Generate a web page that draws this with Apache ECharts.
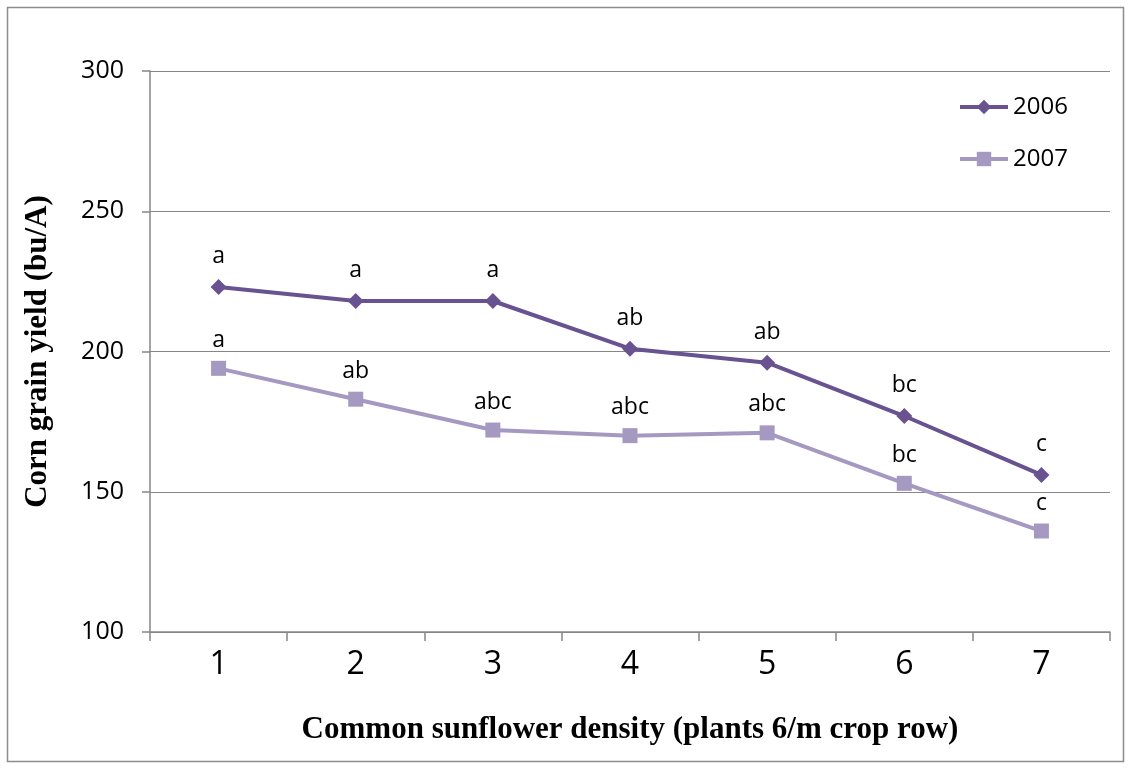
<!DOCTYPE html>
<html><head><meta charset="utf-8">
<script src="https://cdn.jsdelivr.net/npm/echarts@6/dist/echarts.min.js"></script>
<style>html,body{margin:0;padding:0;background:#fff}#c{width:1130px;height:768px}</style>
</head><body><div id="c"></div>
<script>
const categories = ['1','2','3','4','5','6','7'];
const yield2006 = [223, 218, 218, 201, 196, 177, 156];
const yield2007 = [194, 183, 172, 170, 171, 153, 136];
const letters2006 = ['a','a','a','ab','ab','bc','c'];
const letters2007 = ['a','ab','abc','abc','abc','bc','c'];
const yTicks = [100, 150, 200, 250, 300];

const sans = '"Open Sans", "Liberation Sans", sans-serif';
const serif = '"Liberation Serif", "DejaVu Serif", serif';
const chart = echarts.init(document.getElementById('c'));
chart.setOption({
  animation: false,
  backgroundColor: '#fff',
  graphic: [{type:'rect', shape:{x:7.5,y:7.5,width:1116,height:754}, style:{fill:'none', stroke:'#8c8c8c', lineWidth:1.5}}],
  grid: {left:150, right:20, top:71, bottom:136},
  legend: {
    orient:'vertical', left:953, top:90, itemGap:28, itemWidth:48, itemHeight:18,
    lineStyle:{width:4},
    textStyle:{fontFamily:sans, fontSize:24, color:'#000'},
    data:['2006','2007']
  },
  xAxis: {
    type:'category', data:categories, boundaryGap:true,
    axisLine:{lineStyle:{color:'#868686', width:1.5}},
    axisTick:{show:true, interval:0, length:9, lineStyle:{color:'#868686', width:1.5}},
    axisLabel:{fontFamily:sans, fontSize:32, color:'#000', margin:17},
    name:'Common sunflower density (plants 6/m crop row)', nameLocation:'middle', nameGap:82,
    nameTextStyle:{fontFamily:serif, fontWeight:'bold', fontSize:31, color:'#000'}
  },
  yAxis: {
    type:'value', min:yTicks[0], max:yTicks[yTicks.length-1], interval:50,
    axisLine:{show:true, lineStyle:{color:'#868686', width:1.5}},
    axisTick:{show:true, length:8, lineStyle:{color:'#868686', width:1.5}},
    splitLine:{lineStyle:{color:'#868686', width:1.2}},
    axisLabel:{fontFamily:sans, fontSize:25, color:'#000', margin:26},
    name:'Corn grain yield (bu/A)', nameLocation:'middle', nameGap:97, nameRotate:90,
    nameTextStyle:{fontFamily:serif, fontWeight:'bold', fontSize:31, color:'#000'}
  },
  series: [
    {name:'2006', type:'line', data:yield2006, symbol:'diamond', symbolSize:16,
     lineStyle:{color:'#68528F', width:4}, itemStyle:{color:'#68528F'},
     label:{show:true, position:'top', distance:11, fontFamily:sans, fontSize:23, color:'#000',
       formatter:p=>letters2006[p.dataIndex]}},
    {name:'2007', type:'line', data:yield2007, symbol:'rect', symbolSize:15,
     lineStyle:{color:'#A598C1', width:4}, itemStyle:{color:'#A598C1'},
     label:{show:true, position:'top', distance:9, fontFamily:sans, fontSize:23, color:'#000',
       formatter:p=>letters2007[p.dataIndex]}}
  ]
});
</script></body></html>
